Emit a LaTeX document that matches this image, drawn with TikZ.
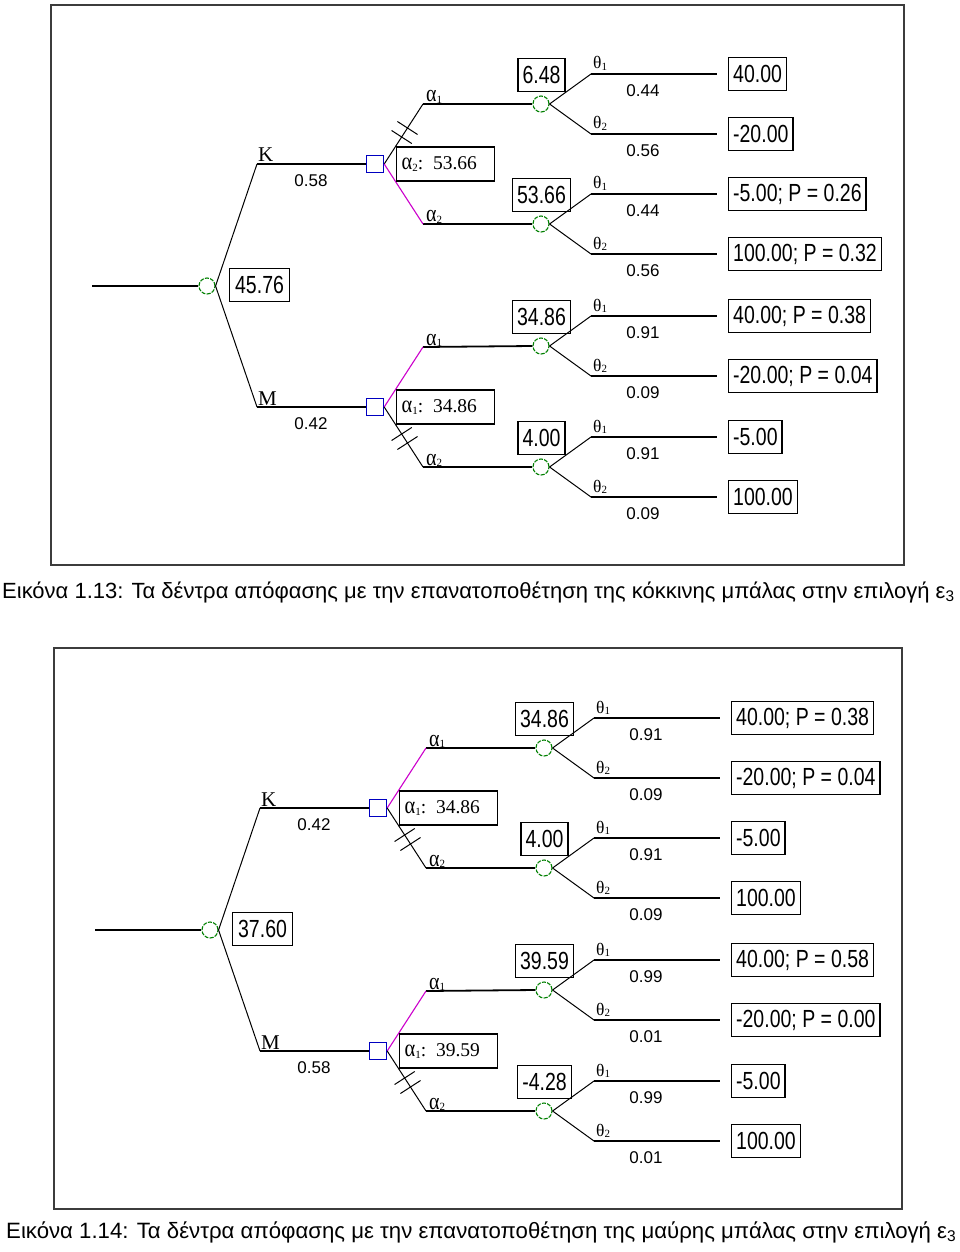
\documentclass[tikz,border=0pt]{standalone}
\usepackage{fontspec}
\setmainfont{Liberation Serif}
\newfontfamily\arialf{Liberation Sans}
\usetikzlibrary{calc}
\definecolor{chgreen}{RGB}{0,128,0}
\definecolor{decblue}{RGB}{0,0,192}
\definecolor{chosenmag}{RGB}{204,0,204}
\definecolor{framegray}{RGB}{60,60,60}
\newcommand\boxtxt[1]{\scalebox{1}[1.27]{\arialf\fontsize{19.5}{20}\selectfont #1}}
\newcommand\probtxt[1]{{\arialf\fontsize{17}{17}\selectfont #1}}
\newcommand\sbs[1]{\raisebox{-1.5pt}{\fontsize{11}{11}\selectfont #1}}
\newcommand\alf{\scalebox{1.05}[1.25]{α}}
\newcommand\hashes[2]{%
  \foreach \f/\hn in {0.45/a,0.6/b}{%
    \coordinate (hm\hn) at ($(#1)!\f!(#2)$);
    \draw[dbr] ($(hm\hn)!12pt!90:(#2)$) -- ($(hm\hn)!12pt!-90:(#2)$);
  }%
}
% chance group: #1 name, #2 Y, #3 value, #4 p1, #5 p2, #6 terminal1, #7 terminal2
\newcommand\chancegrp[7]{%
  \node[chance] (#1) at (541,#2) {};
  \node[valbox, anchor=south] (#1v) at (541.5,#2-12) {\boxtxt{#3}};
  \coordinate (#1k1) at (591,#2-30);
  \coordinate (#1e1) at (717,#2-30);
  \coordinate (#1k2) at (591,#2+30);
  \coordinate (#1e2) at (717,#2+30);
  \draw[dbr] (#1.east) -- (#1k1);
  \draw[hbr] (#1k1) -- (#1e1);
  \draw[dbr] (#1.east) -- (#1k2);
  \draw[hbr] (#1k2) -- (#1e2);
  \node[lbl, anchor=base west] (#1l1) at (593,#2-35) {\fontsize{17.5}{17}\selectfont θ\sbs{1}};
  \node[lbl, anchor=base west] (#1l2) at (593,#2+25) {\fontsize{17.5}{17}\selectfont θ\sbs{2}};
  \node[prob] (#1p1) at (643,#2-13) {\probtxt{#4}};
  \node[prob] (#1p2) at (643,#2+47) {\probtxt{#5}};
  \node[valbox, anchor=west] (#1t1) at (728,#2-30) {\boxtxt{#6}};
  \node[valbox, anchor=west] (#1t2) at (728,#2+30) {\boxtxt{#7}};
}
% decision group: #1 name, #2 Y, #3 letter, #4 prob, #5 label, #6 chosen branch
\newcommand\decgrp[6]{%
  \coordinate (#1c) at (257,#2);
  \node[decision] (#1d) at (375,#2) {};
  \coordinate (#1a1) at (423,#2-60);
  \coordinate (#1a2) at (423,#2+60);
  \draw[hbr] (#1c) -- (#1d.west);
  \draw[hbr] (#1a1) -- (#11.west);
  \draw[hbr] (#1a2) -- (#12.west);
  \ifnum#6=1
    \draw[chosen] (#1d.east) -- (#1a1);
    \draw[dbr] (#1d.east) -- (#1a2);
    \hashes{#1d.east}{#1a2}
  \else
    \draw[dbr] (#1d.east) -- (#1a1);
    \draw[chosen] (#1d.east) -- (#1a2);
    \hashes{#1d.east}{#1a1}
  \fi
  \node[lbl, anchor=base west, font=\fontsize{21}{21}\selectfont] (#1n) at (258,#2-2) {#3};
  \node[prob] (#1p) at (311,#2+17) {\probtxt{#4}};
  \node[lbl, anchor=base west] (#1l1) at (426,#2-62) {\alf\sbs{1}};
  \node[lbl, anchor=base west] (#1l2) at (426,#2+58) {\alf\sbs{2}};
  \node[lblbox, anchor=west] (#1b) at (396,#2) {#5};
}
% whole tree root: #1 name, #2 value
\newcommand\rootgrp[2]{%
  \coordinate (#1s) at (92,286);
  \node[chance] (#1r) at (207,286) {};
  \node[valbox, anchor=west, inner xsep=5.5pt] (#1rv) at (229,285) {\boxtxt{#2}};
  \draw[hbr] (#1s) -- (#1r.west);
  \draw[dbr] (#1r.east) -- (#1Kc);
  \draw[dbr] (#1r.east) -- (#1Mc);
}
\begin{document}
\begin{tikzpicture}[x=1pt,y=-1pt,
  dbr/.style={line width=1pt, black},
  hbr/.style={line width=1.8pt, black},
  chosen/.style={line width=1.1pt, chosenmag},
  chance/.style={circle, draw=chgreen, line width=1.1pt, dash pattern=on 4pt off 1.3pt, minimum size=16pt, inner sep=0pt},
  decision/.style={rectangle, draw=decblue, line width=1.4pt, minimum size=17pt, inner sep=0pt},
  valbox/.style={draw, line width=1.3pt, inner xsep=4.5pt, inner ysep=0pt, minimum height=33pt},
  lblbox/.style={draw, line width=1.3pt, text width=88pt, inner xsep=5pt, inner ysep=0pt, minimum height=34pt, align=left, font=\fontsize{19.5}{19.5}\selectfont},
  lbl/.style={inner sep=0pt, font=\fontsize{19}{19}\selectfont},
  prob/.style={inner sep=0pt},
  frame/.style={draw=framegray, line width=1.5pt},
  captionnode/.style={inner sep=0pt, anchor=base west, font=\arialf\fontsize{22}{22}\selectfont}]
\useasboundingbox (0,0) rectangle (960,1252);
\fill[white] (0,0) rectangle (960,1252);
\draw[frame] (51,5) rectangle (904,565);
\draw[frame] (54,648) rectangle (902,1209);

% ---- Tree 1 ----
\begin{scope}
\chancegrp{AK1}{104}{6.48}{0.44}{0.56}{40.00}{-20.00}
\chancegrp{AK2}{224}{53.66}{0.44}{0.56}{-5.00; P = 0.26}{100.00; P = 0.32}
\chancegrp{AM1}{346}{34.86}{0.91}{0.09}{40.00; P = 0.38}{-20.00; P = 0.04}
\chancegrp{AM2}{467}{4.00}{0.91}{0.09}{-5.00}{100.00}
\decgrp{AK}{164}{K}{0.58}{\alf\sbs{2}: 53.66}{2}
\decgrp{AM}{407}{M}{0.42}{\alf\sbs{1}: 34.86}{1}
\rootgrp{A}{45.76}
\end{scope}

% ---- Tree 2 ----
\begin{scope}[shift={(3,644)}]
\chancegrp{BK1}{104}{34.86}{0.91}{0.09}{40.00; P = 0.38}{-20.00; P = 0.04}
\chancegrp{BK2}{224}{4.00}{0.91}{0.09}{-5.00}{100.00}
\chancegrp{BM1}{346}{39.59}{0.99}{0.01}{40.00; P = 0.58}{-20.00; P = 0.00}
\chancegrp{BM2}{467}{-4.28}{0.99}{0.01}{-5.00}{100.00}
\decgrp{BK}{164}{K}{0.42}{\alf\sbs{1}: 34.86}{1}
\decgrp{BM}{407}{M}{0.58}{\alf\sbs{1}: 39.59}{1}
\rootgrp{B}{37.60}
\end{scope}

\node[captionnode] (cap1) at (2,598) {Εικόνα 1.13: Τα δέντρα απόφασης με την επανατοποθέτηση της κόκκινης μπάλας στην επιλογή ε\textsubscript{3}};
\node[captionnode, font=\arialf\fontsize{22.2}{22}\selectfont] (cap2) at (6,1238) {Εικόνα 1.14: Τα δέντρα απόφασης με την επανατοποθέτηση της μαύρης μπάλας στην επιλογή ε\textsubscript{3}};
\end{tikzpicture}
\end{document}
